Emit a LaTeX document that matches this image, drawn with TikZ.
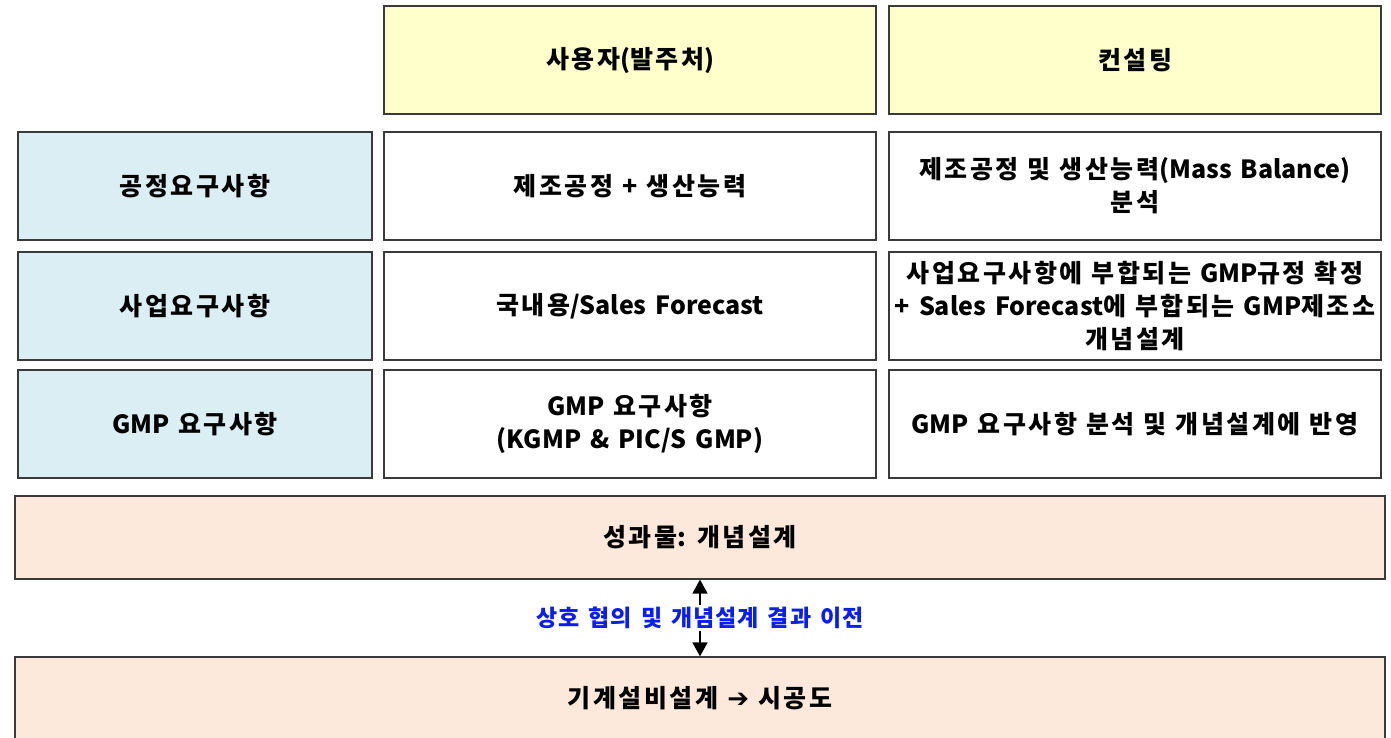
\documentclass[tikz,border=0pt]{standalone}
\usepackage{fontspec}
\setmainfont{Noto Sans CJK KR}
\newfontfamily\symfont{DejaVu Sans}
\usetikzlibrary{arrows.meta,shadows}
\definecolor{hdr}{HTML}{FFFFCC}
\definecolor{lblue}{HTML}{DAEEF3}
\definecolor{peach}{HTML}{FCE9DB}
\definecolor{bord}{HTML}{3A3A3A}
\definecolor{lblcol}{HTML}{0A1EF0}
\XeTeXinterchartokenstate=1
\newXeTeXintercharclass\hgclass
\newcount\hgi
\hgi="AC00
\loop
  \XeTeXcharclass\hgi=\hgclass
  \ifnum\hgi<"D7A3 \advance\hgi by 1
\repeat
\newdimen\hgap
\hgap=2.5pt
\XeTeXinterchartoks\hgclass\hgclass={\kern\hgap}
\newcommand\boxsetup{\spaceskip=9pt plus 1pt\relax}
\newcommand\lblsetup{\hgap=1pt\relax\spaceskip=9pt plus 1pt\relax}
\begin{document}
\begin{tikzpicture}[x=1pt,y=-1pt,
  box/.style={draw=bord, line width=1.2pt, fill=white, align=center, inner sep=0pt,
    font=\fontsize{25}{33}\selectfont\bfseries\boxsetup,
    drop shadow={shadow xshift=1.2pt, shadow yshift=-1.2pt, fill=black!45, opacity=0.8}},
  hbox/.style={box, fill=hdr, minimum width=492pt, minimum height=108pt},
  cbox/.style={box, minimum width=492pt, minimum height=108pt},
  lbox/.style={box, fill=lblue, minimum width=354pt, minimum height=108pt},
  wbox/.style={box, fill=peach, minimum width=1370pt},
  lbl/.style={font=\fontsize{23}{26}\selectfont\bfseries, text=lblcol, fill=white, inner sep=2pt}
]
\useasboundingbox (0,0) rectangle (1391,737);
\fill[white] (0,0) rectangle (1391,737);

\node[hbox] (h1) at (630,60) {사용자(발주처)};
\node[hbox] (h2) at (1135,60) {컨설팅};

\node[lbox] (l1) at (195,186) {공정요구사항};
\node[cbox] (m1) at (630,186) {제조공정 + 생산능력};
\node[cbox] (r1) at (1135,186) {제조공정 및 생산능력(Mass Balance)\\분석};

\node[lbox] (l2) at (195,306) {사업요구사항};
\node[cbox] (m2) at (630,306) {국내용/Sales Forecast};
\node[cbox] (r2) at (1135,306) {사업요구사항에 부합되는 GMP규정 확정\\+ Sales Forecast에 부합되는 GMP제조소\\개념설계};

\node[lbox] (l3) at (195,424) {GMP 요구사항};
\node[cbox] (m3) at (630,424) {GMP 요구사항\\(KGMP \& PIC/S GMP)};
\node[cbox] (r3) at (1135,424) {GMP 요구사항 분석 및 개념설계에 반영};

\node[wbox, minimum height=83pt] (out) at (700,537.5) {성과물: 개념설계};
\node[wbox, minimum height=82pt] (mech) at (700,698) {기계설비설계 {\symfont\bfseries\fontsize{26}{30}\selectfont ➔} 시공도};

\draw[line width=1.6pt, {Triangle[length=14pt,width=15pt]}-{Triangle[length=14pt,width=15pt]}] (out.south) -- (mech.north);
\node[lbl] (tr) at (700,618) {\lblsetup 상호 협의 및 개념설계 결과 이전};
\end{tikzpicture}
\end{document}
